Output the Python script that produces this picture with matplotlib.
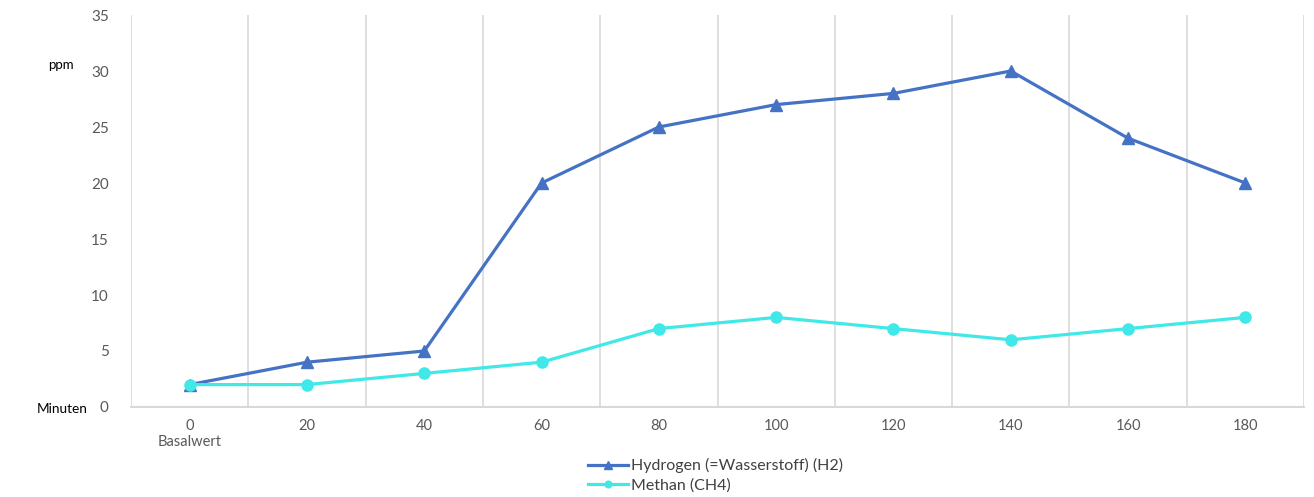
import matplotlib.pyplot as plt
import numpy as np

categories = ['0\nBasalwert', '20', '40', '60', '80', '100', '120', '140', '160', '180']
h2_values = [2, 4, 5, 20, 25, 27, 28, 30, 24, 20]
ch4_values = [2, 2, 3, 4, 7, 8, 7, 6, 7, 8]
y_ticks = [0, 5, 10, 15, 20, 25, 30, 35]

plt.rcParams['font.family'] = ['Lato', 'DejaVu Sans']

fig = plt.figure(figsize=(13.14, 4.97), dpi=100)
ax = fig.add_axes([131/1314, 1 - 407/497, (1304-131)/1314, (407-15)/497])

x = np.arange(len(categories))
ax.plot(x, h2_values, color='#4472C4', linewidth=2.3, marker='^', markersize=9,
        label='Hydrogen (=Wasserstoff) (H2)', zorder=3)
ax.plot(x, ch4_values, color='#40E8E8', linewidth=2.3, marker='o', markersize=8,
        label='Methan (CH4)', zorder=4)

ax.set_xlim(-0.5, len(categories) - 0.5)
ax.set_ylim(0, 35)
ax.set_yticks(y_ticks)
ax.set_xticks(x)
ax.set_xticklabels(categories, color='#595959', fontsize=10.5, linespacing=1.15)
ax.set_yticklabels([str(v) for v in y_ticks], color='#595959', fontsize=11)
ax.tick_params(axis='both', length=0)
ax.tick_params(axis='x', pad=9)
ax.tick_params(axis='y', pad=16)

# vertical grid lines between categories
for b in np.arange(-0.5, len(categories), 1.0):
    ax.axvline(b, color='#D9D9D9', linewidth=1.2, zorder=1)

for s in ['top', 'left', 'right']:
    ax.spines[s].set_visible(False)
ax.spines['bottom'].set_color('#D9D9D9')
ax.spines['bottom'].set_linewidth(1.5)

fig.text(48/1314, 1 - 65/497, 'ppm', fontsize=9.5, ha='left', va='center', color='black')
fig.text(37/1314, 1 - 409/497, 'Minuten', fontsize=9.8, ha='left', va='center', color='black')

leg = fig.legend(loc='upper left', bbox_to_anchor=(582/1314, 1 - 452/497), frameon=False,
                 fontsize=11.5, handlelength=2.5, handletextpad=0.15, labelspacing=0.3,
                 markerscale=0.6, borderaxespad=0)
for t in leg.get_texts():
    t.set_color('#404040')

fig.savefig('out.png', dpi=100)
